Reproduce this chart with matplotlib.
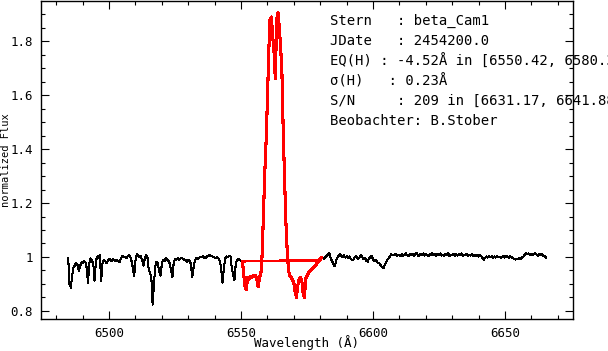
import numpy as np
import matplotlib
matplotlib.use('Agg')
from matplotlib import pyplot as plt
from matplotlib.ticker import MultipleLocator, FuncFormatter

# spectrum, sampled every 0.5 A
step = 0.5

blue_start = 6484.5
blue_flux = [
    0.996, 0.900, 0.886, 0.930, 0.962, 0.968, 0.978, 0.972, 0.948, 0.965,
    0.980, 0.976, 0.984, 0.982, 0.960, 0.905, 0.975, 0.995, 0.985, 0.978,
    0.912, 0.985, 1.002, 0.995, 1.008, 0.912, 0.975, 0.990, 0.985, 0.978,
    0.985, 0.992, 0.990, 0.985, 0.992, 0.988, 0.985, 0.990, 0.983, 0.980,
    0.995, 1.004, 1.002, 1.000, 0.995, 1.003, 1.006, 1.002, 0.985, 0.960,
    0.930, 0.985, 1.012, 1.005, 1.000, 1.002, 0.990, 0.968, 0.992, 1.006,
    1.002, 0.955, 0.940, 0.925, 0.823, 0.900, 0.965, 0.982, 0.975, 0.945,
    0.930, 0.975, 0.990, 0.985, 0.995, 0.990, 0.985, 0.975, 0.950, 0.925,
    0.980, 0.992, 0.990, 0.995, 0.990, 0.993, 0.997, 0.992, 0.990, 0.988,
    0.982, 0.990, 0.985, 0.975, 0.925, 0.960, 0.988, 0.995, 0.992, 0.997,
    1.000, 0.998, 1.003, 0.998, 0.995, 1.000, 1.005, 1.008, 1.002, 1.004,
    1.000, 0.998, 0.996, 1.000, 0.994, 0.985, 0.955, 0.905, 0.960, 0.995,
    1.002, 1.000, 1.005, 1.003, 0.960, 0.935, 0.915, 0.975, 0.990, 0.992,
    0.988, 0.985, 0.980,
]

line_start = 6550.5
line_flux = [
    0.984, 0.940, 0.890, 0.880, 0.925, 0.918, 0.928, 0.925, 0.930, 0.928,
    0.930, 0.915, 0.890, 0.925, 0.935, 1.010, 1.160, 1.310, 1.430, 1.580,
    1.760, 1.880, 1.890, 1.820, 1.760, 1.660, 1.880, 1.905, 1.850, 1.780,
    1.680, 1.460, 1.290, 1.130, 1.020, 0.950, 0.930, 0.925, 0.915, 0.905,
    0.870, 0.850, 0.895, 0.915, 0.925, 0.915, 0.870, 0.848, 0.920, 0.930,
    0.940, 0.945, 0.950, 0.955, 0.962, 0.965, 0.972, 0.980, 0.985, 0.995,
    0.998,
]

red_start = 6580.5
red_flux = [
    0.996, 0.998, 0.994, 1.000, 1.005, 1.010, 1.014, 0.995, 0.985, 0.975,
    0.965, 0.985, 0.998, 1.005, 1.011, 1.004, 1.000, 1.006, 0.998, 1.003,
    0.996, 1.002, 0.995, 0.990, 0.988, 0.998, 1.004, 0.997, 0.993, 1.000,
    1.006, 0.998, 0.992, 0.996, 0.986, 0.982, 0.994, 1.000, 1.003, 0.992,
    0.985, 0.990, 0.982, 0.978, 0.975, 0.968, 0.962, 0.958, 0.972, 0.980,
    0.990, 0.996, 1.004, 1.010, 1.006, 1.008, 1.012, 1.005, 1.009, 1.007,
    1.003, 1.010, 1.005, 1.008, 1.013, 1.006, 1.004, 1.010, 1.007, 1.012,
    1.005, 1.009, 1.014, 1.006, 1.003, 1.011, 1.008, 1.013, 1.005, 1.010,
    1.007, 1.003, 1.011, 1.008, 1.014, 1.006, 1.010, 1.004, 1.012, 1.007,
    1.013, 1.005, 1.009, 1.003, 1.011, 1.006, 1.014, 1.004, 1.009, 1.006,
    1.012, 1.003, 1.010, 1.005, 1.011, 1.007, 1.013, 1.004, 1.009, 1.006,
    1.011, 1.003, 1.009, 1.005, 1.010, 1.002, 1.008, 1.004, 1.009, 1.001,
    1.006, 1.003, 0.996, 0.990, 0.997, 1.002, 0.998, 1.004, 0.999, 1.003,
    0.997, 1.002, 0.998, 1.003, 0.999, 1.001, 0.996, 1.000, 1.003, 0.998,
    1.004, 1.000, 0.997, 1.003, 0.999, 0.996, 0.993, 0.990, 0.994, 0.991,
    0.996, 0.993, 0.998, 1.002, 1.008, 1.014, 1.010, 1.013, 1.008, 1.012,
    1.006, 1.011, 1.015, 1.009, 1.004, 1.012, 1.006, 1.010, 1.003, 1.005,
    0.998,
]

# continuum used for EQ(H)
cont_wl = [6550.42, 6580.34]
cont_flux = [0.984, 0.988]

info = [
    'Stern   : beta_Cam1',
    'JDate   : 2454200.0',
    'EQ(H) : -4.52\u00c5 in [6550.42, 6580.34]',
    '\u03c3(H)   : 0.23\u00c5',
    'S/N     : 209 in [6631.17, 6641.88]',
    'Beobachter: B.Stober',
]

def wl_of(start, flux):
    return start + step * np.arange(len(flux))

mono = 'DejaVu Sans Mono'
plt.rcParams['font.family'] = mono

fig = plt.figure(figsize=(6.08, 3.51), dpi=100)
ax = fig.add_axes([41/608, 1 - 319/351, 532/608, 318/351])

ax.plot(wl_of(blue_start, blue_flux), blue_flux, color='black', lw=0.75, antialiased=False)
ax.plot(wl_of(red_start, red_flux), red_flux, color='black', lw=0.75, antialiased=False)
ax.plot(wl_of(line_start, line_flux), line_flux, color='red', lw=1.5, antialiased=False)
ax.plot(cont_wl, cont_flux, color='red', lw=1.1, antialiased=False)

ax.set_xlim(6474.2, 6675.8)
ax.set_ylim(0.77, 1.949)

ax.xaxis.set_major_locator(MultipleLocator(50))
ax.xaxis.set_minor_locator(MultipleLocator(10))
ax.yaxis.set_major_locator(MultipleLocator(0.2))
ax.yaxis.set_minor_locator(MultipleLocator(0.05))
ax.yaxis.set_major_formatter(FuncFormatter(lambda v, p: '{:g}'.format(round(v, 2))))

ax.tick_params(which='both', direction='in', top=True, right=True, width=0.8,
               labelsize=9, colors='black')
ax.tick_params(which='major', length=5.5, pad=6)
ax.tick_params(which='minor', length=3)
for s in ax.spines.values():
    s.set_linewidth(1.0)

# axis titles placed by hand, the figure is tight
fig.text(307/608, 1 - 343/351, 'Wavelength (\u00c5)', fontsize=9, ha='center', va='center')
fig.text(6/608, 1 - 160/351, 'normalized Flux', fontsize=7.5, rotation=90,
         ha='center', va='center')

for i, t in enumerate(info):
    fig.text(330/608, 1 - (21 + 20*i)/351, t, fontsize=10, va='center', ha='left')

fig.savefig('out.png', dpi=100)
